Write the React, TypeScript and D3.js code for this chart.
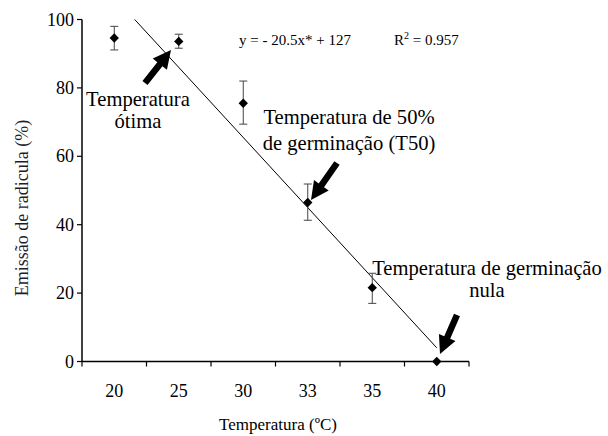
import React from "react";
import * as d3 from "d3";

const categories = ["20", "25", "30", "33", "35", "40"];
const means = [94.6, 93.6, 75.5, 46.5, 21.6, 0];
const errLow = [91.1, 91.6, 69.4, 41.3, 17.0, 0];
const errHigh = [98.0, 95.7, 82.0, 51.9, 25.8, 0];
const yTicks = [0, 20, 40, 60, 80, 100];
const slope = -20.5;
const intercept = 127;
const lineStartIndex = (100 - intercept) / slope; // where fit reaches 100
const lineEndIndex = 6;

const W = 608;
const H = 436;
const left = 82;
const right = 469;
const top = 19.5;
const bottom = 361.5;

const FONT = "Liberation Serif";

function arrowPoints(x0: number, y0: number, x1: number, y1: number, sw: number, hw: number, hl: number) {
  const dx = x1 - x0, dy = y1 - y0;
  const len = Math.hypot(dx, dy);
  const ux = dx / len, uy = dy / len;
  const nx = -uy, ny = ux;
  const bx = x1 - ux * hl, by = y1 - uy * hl;
  const pts = [
    [x0 + nx * sw / 2, y0 + ny * sw / 2],
    [bx + nx * sw / 2, by + ny * sw / 2],
    [bx + nx * hw / 2, by + ny * hw / 2],
    [x1, y1],
    [bx - nx * hw / 2, by - ny * hw / 2],
    [bx - nx * sw / 2, by - ny * sw / 2],
    [x0 - nx * sw / 2, y0 - ny * sw / 2],
  ];
  return pts.map((p) => p.join(",")).join(" ");
}

function T(props: any) {
  const { children, style, fill, ...rest } = props;
  return (
    <text {...rest} style={{ fontFamily: FONT, ...(style || {}) }} fill={fill || "#000"}>
      {children}
    </text>
  );
}

export default function App() {
  const x = d3.scaleBand<string>().domain(categories).range([left, right]);
  const y = d3.scaleLinear().domain([0, 100]).range([bottom, top]);
  const bw = x.bandwidth();
  const xi = d3.scaleLinear().domain([1, 6]).range([left + bw / 2, left + bw * 5.5]);
  const fit = (i: number) => slope * i + intercept;
  const fitLine = d3.line<number>().x((i) => xi(i)).y((i) => y(fit(i)))([lineStartIndex, lineEndIndex]) || "";
  const diamond = d3.symbol().type(d3.symbolSquare).size(44)() || "";
  const boundaries = categories.map((_, i) => left + bw * (i + 1));

  return (
    <svg width={W} height={H} style={{ position: "absolute", left: 0, top: 0, background: "#fff" }}>
      <rect width={W} height={H} fill="#fff" />
      {/* axes */}
      <line x1={left} x2={left} y1={top} y2={bottom} stroke="#000" strokeWidth={1.5} />
      <line x1={left} x2={right} y1={bottom} y2={bottom} stroke="#000" strokeWidth={1.5} />
      {yTicks.map((t) => (
        <g key={t}>
          <line x1={left - 5} x2={left} y1={y(t)} y2={y(t)} stroke="#000" strokeWidth={1.2} />
          <T x={74} y={y(t) + 6} textAnchor="end" fontSize={18}>{t}</T>
        </g>
      ))}
      <line x1={left} x2={left} y1={bottom} y2={bottom + 5} stroke="#000" strokeWidth={1.2} />
      {boundaries.map((b, i) => (
        <line key={i} x1={b} x2={b} y1={bottom} y2={bottom + 5} stroke="#000" strokeWidth={1.2} />
      ))}
      {categories.map((c) => (
        <T key={c} x={(x(c) || 0) + bw / 2} y={397} textAnchor="middle" fontSize={18}>{c}</T>
      ))}
      <T x={278} y={430} textAnchor="middle" fontSize={17}>Temperatura (ºC)</T>
      <T transform={`translate(28,${208}) rotate(-90)`} textAnchor="middle" fontSize={18} fill="#1c1c30">Emissão de radicula (%)</T>

      {/* regression line */}
      <path d={fitLine} fill="none" stroke="#000" strokeWidth={1} />

      {/* error bars & points */}
      {categories.map((c, i) => {
        const cx = (x(c) || 0) + bw / 2;
        if (errHigh[i] === errLow[i]) return null;
        return (
          <g key={"e" + c} stroke="#444" strokeWidth={1}>
            <line x1={cx} x2={cx} y1={y(errLow[i])} y2={y(errHigh[i])} />
            <line x1={cx - 4} x2={cx + 4} y1={y(errLow[i])} y2={y(errLow[i])} />
            <line x1={cx - 4} x2={cx + 4} y1={y(errHigh[i])} y2={y(errHigh[i])} />
          </g>
        );
      })}
      {categories.map((c, i) => (
        <path key={"p" + c} d={diamond} transform={`translate(${(x(c) || 0) + bw / 2},${y(means[i])}) rotate(45)`} fill="#000" />
      ))}

      {/* equation */}
      <T x={239} y={45} fontSize={15}>y = - 20.5x* + 127</T>
      <T x={394} y={45} fontSize={15}>R<tspan dy={-6} fontSize={10}>2</tspan><tspan dy={6}> = 0.957</tspan></T>

      {/* annotations */}
      <polygon points={arrowPoints(145, 83, 171, 50, 6.5, 18, 18)} fill="#000" />
      <T x={138} y={106} textAnchor="middle" fontSize={20.6}>Temperatura</T>
      <T x={138} y={128} textAnchor="middle" fontSize={20.6}>ótima</T>

      <polygon points={arrowPoints(337, 163, 311, 200, 6.5, 18, 18)} fill="#000" />
      <T x={349} y={124} textAnchor="middle" fontSize={20.6}>Temperatura de 50%</T>
      <T x={349} y={150} textAnchor="middle" fontSize={20.6}>de germinação (T50)</T>

      <polygon points={arrowPoints(457, 315, 440, 354, 6.5, 18, 18)} fill="#000" />
      <T x={487} y={275} textAnchor="middle" fontSize={20.6}>Temperatura de germinação</T>
      <T x={487} y={297} textAnchor="middle" fontSize={20.6}>nula</T>
    </svg>
  );
}
